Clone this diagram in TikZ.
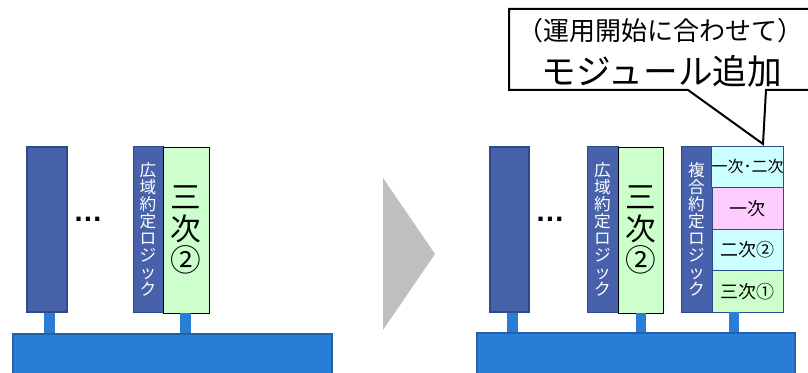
\documentclass[tikz,border=0pt]{standalone}
\usepackage{fontspec}
\setmainfont{Noto Sans CJK JP}
\newfontfamily\dotfont{Liberation Sans}
\definecolor{barblue}{HTML}{4762AA}
\definecolor{baredge}{HTML}{2F4A8A}
\definecolor{busblue}{HTML}{2A7DD4}
\definecolor{busedge}{HTML}{2462A8}
\definecolor{lgreen}{HTML}{CCFFCC}
\definecolor{lcyan}{HTML}{CCFFFF}
\definecolor{lpink}{HTML}{FFCCFF}
\definecolor{arrowgray}{HTML}{BFBFBF}
\tikzset{
  tallbar/.style={draw=baredge, line width=1.5pt, fill=barblue, inner sep=0pt, minimum height=123.75pt},
  logicbox/.style={draw=baredge, line width=0.6pt, fill=barblue, inner sep=0pt, minimum height=124.5pt,
     text=white, align=center, font=\fontsize{12.5}{12.75}\selectfont},
  greenbox/.style={draw=black, line width=0.7pt, fill=lgreen, inner sep=0pt, minimum height=124.5pt,
     align=center, font=\fontsize{23}{23.5}\selectfont},
  cellbox/.style={draw=baredge, line width=0.6pt, inner sep=0pt, minimum width=53.25pt, minimum height=31.125pt,
     font=\fontsize{13.5}{14}\selectfont},
  busbox/.style={draw=busedge, line width=1pt, fill=busblue, inner sep=0pt},
  stub/.style={draw=busblue, line width=8pt},
  dots/.style={font=\dotfont\bfseries\fontsize{22}{22}\selectfont, inner sep=0pt},
}
\begin{document}
\begin{tikzpicture}[x=0.75pt, y=-0.75pt]
\useasboundingbox (0,0) rectangle (808,373);
% ---------- left panel ----------
\node[busbox, minimum width=239.25pt, minimum height=34.5pt] (bus1) at (172.5,357) {};
\node[tallbar, minimum width=30pt] (a1) at (47,229.5) {};
\node[logicbox, minimum width=22.5pt] (l1) at (148,229) {広\\域\\約\\定\\ロ\\ジ\\ッ\\ク};
\node[greenbox, minimum width=34.5pt] (g1) at (186,230) {三\\次\\②};
\node[dots] (d1) at (88,219) {…};
\coordinate (s1) at (49.5,0);
\coordinate (s2) at (185.5,0);
\draw[stub] (a1.south -| s1) -- (s1 |- bus1.north);
\draw[stub] (g1.south -| s2) -- (s2 |- bus1.north);
% ---------- arrow ----------
\fill[arrowgray] (383,178) -- (435,254) -- (383,330) -- cycle;
% ---------- right panel ----------
\node[busbox, minimum width=238.5pt, minimum height=35.25pt] (bus2) at (636,356.5) {};
\node[tallbar, minimum width=29.25pt] (a2) at (509.5,229.5) {};
\node[logicbox, minimum width=23.25pt] (l2) at (602.5,229) {広\\域\\約\\定\\ロ\\ジ\\ッ\\ク};
\node[greenbox, minimum width=33.75pt] (g2) at (640.5,230) {三\\次\\②};
\node[logicbox, minimum width=23.25pt] (l3) at (696.5,229) {複\\合\\約\\定\\ロ\\ジ\\ッ\\ク};
\node[cellbox, fill=lcyan, font=\fontsize{12}{12}\selectfont] (c1) at (747.5,166.75) {一次･二次};
\node[cellbox, fill=lpink] (c2) at (747.5,208.25) {一次};
\node[cellbox, fill=lcyan] (c3) at (747.5,249.75) {二次②};
\node[cellbox, fill=lgreen] (c4) at (747.5,291.25) {三次①};
\node[dots] (d2) at (550,219) {…};
\coordinate (s3) at (512.5,0);
\coordinate (s4) at (641,0);
\coordinate (s5) at (734,0);
\draw[stub] (a2.south -| s3) -- (s3 |- bus2.north);
\draw[stub] (g2.south -| s4) -- (s4 |- bus2.north);
\draw[stub] (c4.south -| s5) -- (s5 |- bus2.north);
% ---------- callout ----------
\draw[fill=white, line width=1.5pt, line join=miter]
  (509,9) -- (822,9) -- (822,90) -- (766,90) -- (763,144) -- (688,90) -- (509,90) -- cycle;
\node[font=\fontsize{19.5}{19.5}\selectfont, inner sep=0pt] (t1) at (660,31) {（運用開始に合わせて）};
\node[font=\fontsize{26}{26}\selectfont, inner sep=0pt] (t2) at (662,71) {モジュール追加};
\end{tikzpicture}
\end{document}
